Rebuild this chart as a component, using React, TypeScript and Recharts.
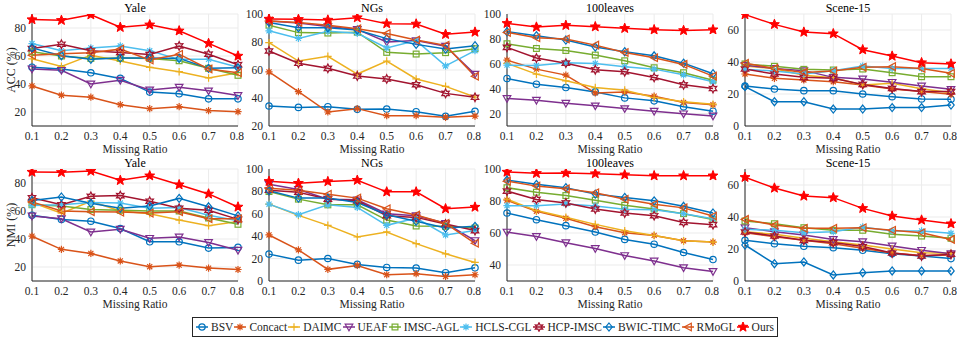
import { LineChart, Line, XAxis, YAxis, CartesianGrid } from 'recharts'

const ratios = [0.1, 0.2, 0.3, 0.4, 0.5, 0.6, 0.7, 0.8]
const methods = ['BSV', 'Concact', 'DAIMC', 'UEAF', 'IMSC-AGL', 'HCLS-CGL', 'HCP-IMSC', 'BWIC-TIMC', 'RMoGL', 'Ours']
const colors = ['#0072BD', '#D95319', '#EDB120', '#7E2F8E', '#77AC30', '#4DBEEE', '#A2142F', '#0072BD', '#D95319', '#FF0000']
const markers = ['o', '*', '+', 'v', 's', '*', 'h', 'd', '<', 'p']

// rows follow the order of `methods`
const yaleAcc = [
  [52, 50.7, 48, 44, 34.2, 33, 29.4, 29.4],
  [38.6, 32, 30.6, 25.2, 22.4, 23.8, 21, 20.2],
  [58, 52.6, 60.6, 56.4, 51.9, 48.8, 44.3, 48.1],
  [50.7, 49.8, 40, 42.7, 35.8, 37.7, 35.1, 31.8],
  [63, 60, 58.3, 58.5, 58.3, 56.6, 51.2, 46.2],
  [68.9, 63.7, 65.8, 67.2, 63.7, 57.6, 57.6, 51.9],
  [65.3, 68.4, 63.7, 62.5, 61.1, 67.2, 61.3, 53.8],
  [65.8, 60.2, 57.6, 58.5, 58.5, 58.3, 51.2, 51.6],
  [60.6, 61.6, 62.3, 64.9, 57.1, 61.3, 50.7, 48.1],
  [86, 85.5, 89.5, 80.5, 82.3, 78, 69, 60],
]
const ngsAcc = [
  [34.3, 33.3, 33.8, 31.9, 32.1, 30.2, 26.9, 30.5],
  [58.6, 44.5, 30, 32.4, 27.4, 27.4, 26.2, 27.1],
  [79.5, 66.4, 69.8, 57.1, 66.4, 53.6, 48.3, 40.7],
  [95, 93.5, 91, 89, 80, 81, 77, 57],
  [92, 86.7, 86.4, 87, 72.6, 71.4, 72.4, 75.2],
  [88, 82.6, 87.6, 86.2, 75.7, 81, 62.9, 73.8],
  [73.6, 64.8, 61.2, 55.7, 53.6, 49.5, 43.3, 40.5],
  [94, 90.2, 90.2, 88.6, 82.4, 78.3, 75, 77.4],
  [95, 94, 92, 89.5, 86, 81.4, 77.6, 55.5],
  [96.4, 96.2, 95.7, 97.4, 93.1, 92.9, 85.5, 87.1],
]
const leavesAcc = [
  [48.2, 43.6, 40.9, 37.4, 32.6, 30.2, 25.4, 21.9],
  [62.9, 55.7, 50.9, 36.6, 37.4, 34, 28.9, 27],
  [60.3, 51.7, 46.3, 40.9, 38.8, 32.9, 29.4, 27.5],
  [32.1, 30.7, 28.3, 26.2, 24, 21.9, 19.8, 18.1],
  [76.1, 72.3, 70.7, 67, 62.4, 56.8, 52.8, 46.8],
  [58.9, 58.7, 60.8, 60.3, 57.6, 55.7, 51.1, 45.5],
  [73.2, 64.6, 60.5, 55.2, 53.6, 49, 43.1, 40.1],
  [85.8, 82.6, 79.1, 73.4, 69.7, 66.4, 60.5, 52],
  [85.2, 80.9, 79.9, 75, 69.1, 64.8, 59.5, 50.1],
  [92.5, 89.5, 90.9, 89.8, 88.5, 87.4, 86.8, 87.4],
]
const sceneAcc = [
  [25, 23.1, 22.1, 22.1, 20, 18.3, 16.9, 16.7],
  [32.5, 29.8, 28.8, 27.7, 25.6, 23.1, 21.5, 19.8],
  [37.5, 35.8, 31.7, 30.2, 25.6, 26.7, 23.3, 20.8],
  [37.9, 36, 34.6, 30.4, 29.4, 27.3, 25, 22.9],
  [38.8, 37.3, 35.4, 35, 35.6, 33.3, 30.8, 30.8],
  [35.4, 34.4, 32.5, 34.6, 37.5, 36, 36, 36],
  [35.6, 32.5, 30.4, 29.8, 26, 23.5, 21.5, 21.5],
  [24.6, 15.2, 15.2, 10.6, 10.6, 11.5, 11.5, 13.1],
  [39.2, 36, 33.5, 34.4, 36.7, 37.1, 36, 32.9],
  [69.6, 63.5, 58.7, 57.7, 47.7, 43.7, 39.6, 38.8],
]
const yaleNmi = [
  [57, 54, 52.7, 47.5, 38, 38, 33.5, 34],
  [42, 32.6, 29.7, 24.3, 20.2, 21.4, 19.2, 18.2],
  [66, 58.5, 67, 60, 58, 53.5, 49.5, 52.5],
  [56.5, 54.5, 45, 47, 40.5, 41.5, 37.5, 32],
  [64.5, 63.5, 61, 60.5, 60, 60, 55, 50.5],
  [64, 64.5, 66, 65.7, 62, 62.5, 57, 53],
  [69.5, 64.5, 70.5, 71, 67, 62, 60.5, 54],
  [67.5, 70, 65.5, 62, 63.5, 69, 63, 56.5],
  [66.5, 60, 59.5, 59.2, 58.5, 59.5, 54.5, 54.5],
  [87.8, 87.6, 88.5, 81.9, 85.2, 78.8, 72.2, 62.9],
]
const ngsNmi = [
  [24, 18.6, 20.1, 14.8, 12.1, 11.5, 7.4, 11.8],
  [41.1, 27.8, 10.4, 13.9, 5.6, 6.5, 4.1, 5.6],
  [68.6, 58.6, 49.7, 39.3, 43.8, 33.4, 24.3, 16.6],
  [86.4, 81.7, 73.1, 72.5, 60, 58.3, 51.5, 36.1],
  [79.9, 73.1, 68, 68, 54.4, 49.1, 48.8, 47.3],
  [68.6, 59.2, 68, 65.7, 49.7, 56.2, 41.1, 45],
  [81.1, 79.3, 73.1, 71.6, 58.3, 56.8, 50.9, 45],
  [80.5, 74, 74, 70.1, 59.2, 53.3, 47.3, 48.8],
  [82.8, 81.1, 77.5, 74, 64.5, 58.9, 51.5, 33.7],
  [89, 87.3, 88.8, 90, 79.6, 79.6, 64.5, 66],
]
const leavesNmi = [
  [72.5, 68.3, 64.6, 60.6, 56, 53, 47.8, 43.4],
  [80.5, 73.6, 69.2, 63.9, 60.2, 58.5, 55.1, 54.3],
  [81.1, 74, 69.8, 65.4, 61.4, 58.5, 55.1, 54.3],
  [60.6, 57.8, 53.9, 50.3, 45.9, 42.5, 38.3, 36],
  [88.3, 85.5, 83.4, 80.5, 77.3, 75, 72.1, 68.5],
  [77.1, 77.1, 78.2, 76.9, 74.8, 74.6, 72.1, 68.9],
  [86.2, 81, 78.8, 75, 72.5, 70.8, 66.6, 65.2],
  [93.1, 90.4, 88.3, 84.3, 82.2, 80.1, 76.7, 72.5],
  [92.4, 89.3, 87.6, 85.1, 81.1, 78, 75.7, 70.6],
  [98.1, 97.3, 97.5, 97.1, 96.4, 95.8, 95.8, 95.8],
]
const sceneNmi = [
  [25.4, 23.3, 21.7, 20.8, 19.2, 17.1, 15.6, 14],
  [30.2, 27.7, 25.4, 23.3, 20.4, 17.5, 16, 16.3],
  [30.8, 29.2, 26.7, 24.6, 22.5, 20, 17.7, 17.3],
  [33.3, 30.8, 28.8, 26, 24.6, 21.9, 19.2, 17.1],
  [37.5, 35.8, 33.3, 31.7, 31.7, 29.2, 28.1, 26.7],
  [32.3, 31.7, 30.2, 30.8, 33.8, 31.3, 31.3, 29.8],
  [30.6, 28.1, 25.4, 24, 21.5, 17.5, 15.6, 16.7],
  [22.5, 10.8, 11.9, 3.8, 5.2, 6.3, 6.3, 6.3],
  [38.5, 35, 32.9, 32.9, 33.3, 31.7, 30.2, 26],
  [64.8, 58.1, 53.1, 52.1, 45.4, 40.6, 38.1, 35.8],
]

const FONT = "'Liberation Serif', 'Times New Roman', serif"
const INK = '#262626'
const FS = 11.5
const PW = 206
const PH = 112

const panels = [
  { title: 'Yale', left: 32, top: 14, rows: yaleAcc, domain: [10, 90], ticks: [20, 40, 60, 80] },
  { title: 'NGs', left: 269, top: 14, rows: ngsAcc, domain: [20, 100], ticks: [20, 40, 60, 80, 100] },
  { title: '100leaves', left: 507, top: 14, rows: leavesAcc, domain: [10, 100], ticks: [20, 40, 60, 80, 100] },
  { title: 'Scene-15', left: 745, top: 14, rows: sceneAcc, domain: [0, 70], ticks: [0, 20, 40, 60] },
  { title: 'Yale', left: 32, top: 169, rows: yaleNmi, domain: [10, 90], ticks: [20, 40, 60, 80] },
  { title: 'NGs', left: 269, top: 169, rows: ngsNmi, domain: [0, 100], ticks: [0, 20, 40, 60, 80, 100] },
  { title: '100leaves', left: 507, top: 169, rows: leavesNmi, domain: [30, 100], ticks: [40, 60, 80, 100] },
  { title: 'Scene-15', left: 745, top: 169, rows: sceneNmi, domain: [0, 70], ticks: [0, 20, 40, 60] },
]

function starPts(x: number, y: number, n: number, R: number, r: number) {
  const pts: string[] = []
  for (let i = 0; i < n * 2; i++) {
    const a = -Math.PI / 2 + (i * Math.PI) / n
    const rad = i % 2 === 0 ? R : r
    pts.push(`${x + rad * Math.cos(a)},${y + rad * Math.sin(a)}`)
  }
  return pts.join(' ')
}

function Marker({ kind, x, y, c }: { kind: string; x: number; y: number; c: string }) {
  const sw = 1.2
  if (kind === 'o') return <circle cx={x} cy={y} r={3.2} fill="none" stroke={c} strokeWidth={sw} />
  if (kind === '*') {
    const r = 3.6
    const d = r * 0.707
    return (
      <path
        d={`M${x - r},${y}H${x + r}M${x},${y - r}V${y + r}M${x - d},${y - d}L${x + d},${y + d}M${x - d},${y + d}L${x + d},${y - d}`}
        stroke={c}
        strokeWidth={sw}
      />
    )
  }
  if (kind === '+') return <path d={`M${x - 3.8},${y}H${x + 3.8}M${x},${y - 3.8}V${y + 3.8}`} stroke={c} strokeWidth={sw} />
  if (kind === 'v')
    return <polygon points={`${x - 3.8},${y - 2.8} ${x + 3.8},${y - 2.8} ${x},${y + 3.8}`} fill="none" stroke={c} strokeWidth={sw} />
  if (kind === 's') return <rect x={x - 2.9} y={y - 2.9} width={5.8} height={5.8} fill="none" stroke={c} strokeWidth={sw} />
  if (kind === 'h') return <polygon points={starPts(x, y, 6, 4.3, 2.3)} fill="none" stroke={c} strokeWidth={sw} />
  if (kind === 'd')
    return <polygon points={`${x},${y - 4} ${x + 3.2},${y} ${x},${y + 4} ${x - 3.2},${y}`} fill="none" stroke={c} strokeWidth={sw} />
  if (kind === '<')
    return <polygon points={`${x - 3.8},${y} ${x + 3.3},${y - 3.8} ${x + 3.3},${y + 3.8}`} fill="none" stroke={c} strokeWidth={sw} />
  return <polygon points={starPts(x, y, 5, 5.2, 2.2)} fill={c} stroke={c} strokeWidth={1} />
}

function Panel({ p }: { p: (typeof panels)[number] }) {
  const data = ratios.map((r, i) => {
    const row: Record<string, number> = { r }
    p.rows.forEach((vals, k) => (row['s' + k] = vals[i]))
    return row
  })
  const tick = { fill: INK, fontSize: FS, fontFamily: FONT }
  return (
    <>
      <div style={{ position: 'absolute', left: p.left - 30, top: p.top - 6 }}>
        <LineChart width={30 + PW + 6} height={6 + PH + 20} data={data} margin={{ top: 6, right: 6, left: 0, bottom: 0 }}>
          <CartesianGrid stroke="#ebebeb" />
          <XAxis
            dataKey="r"
            type="number"
            domain={[0.1, 0.8]}
            ticks={ratios}
            tickFormatter={(v: number) => v.toFixed(1)}
            height={20}
            tickSize={0}
            tickMargin={5.5}
            axisLine={{ stroke: INK }}
            tick={tick}
          />
          <XAxis xAxisId="t" orientation="top" dataKey="r" type="number" domain={[0.1, 0.8]} height={0} tick={false} axisLine={{ stroke: INK }} />
          <YAxis
            type="number"
            domain={p.domain}
            ticks={p.ticks}
            width={30}
            tickSize={0}
            tickMargin={6}
            axisLine={{ stroke: INK }}
            tick={tick}
            allowDataOverflow
          />
          <YAxis yAxisId="r" orientation="right" width={0} tick={false} axisLine={{ stroke: INK }} />
          {methods.map((m, k) => (
            <Line
              key={m}
              dataKey={'s' + k}
              stroke={colors[k]}
              strokeWidth={1.5}
              isAnimationActive={false}
              dot={(d: any) => <Marker key={d.index} kind={markers[k]} x={d.cx} y={d.cy} c={colors[k]} />}
            />
          ))}
        </LineChart>
      </div>
      <div style={{ position: 'absolute', left: p.left, top: p.top - 12, width: PW, textAlign: 'center', fontSize: 12, lineHeight: '12px', color: '#000' }}>
        {p.title}
      </div>
      <div style={{ position: 'absolute', left: p.left, top: p.top + 130, width: PW, textAlign: 'center', fontSize: FS, lineHeight: `${FS}px`, color: INK }}>
        Missing Ratio
      </div>
    </>
  )
}

function LegendIcon({ k }: { k: number }) {
  return (
    <svg width={12} height={10} style={{ marginRight: 3 }}>
      <line x1={0} y1={5} x2={12} y2={5} stroke={colors[k]} strokeWidth={1.5} />
      <Marker kind={markers[k]} x={6} y={5} c={colors[k]} />
    </svg>
  )
}

export default function App() {
  return (
    <div style={{ position: 'relative', width: 959, height: 339, background: '#fff', fontFamily: FONT, overflow: 'hidden' }}>
      <style>{'body{margin:0}'}</style>
      {panels.map((p, i) => (
        <Panel key={i} p={p} />
      ))}
      {['ACC (%)', 'NMI (%)'].map((t, i) => (
        <div
          key={t}
          style={{
            position: 'absolute',
            left: 11 - 40,
            top: (i === 0 ? 70 : 225) - 7,
            width: 80,
            textAlign: 'center',
            fontSize: 12,
            lineHeight: '14px',
            color: INK,
            transform: 'rotate(-90deg)',
          }}
        >
          {t}
        </div>
      ))}
      <div
        style={{
          position: 'absolute',
          left: 192,
          top: 317,
          width: 586,
          height: 20,
          boxSizing: 'border-box',
          border: `1px solid ${INK}`,
          display: 'flex',
          alignItems: 'center',
          justifyContent: 'space-between',
          padding: '0 3px',
          fontSize: 11.5,
          color: INK,
          whiteSpace: 'nowrap',
        }}
      >
        {methods.map((m, k) => (
          <div key={m} style={{ display: 'flex', alignItems: 'center' }}>
            <LegendIcon k={k} />
            {m}
          </div>
        ))}
      </div>
    </div>
  )
}
